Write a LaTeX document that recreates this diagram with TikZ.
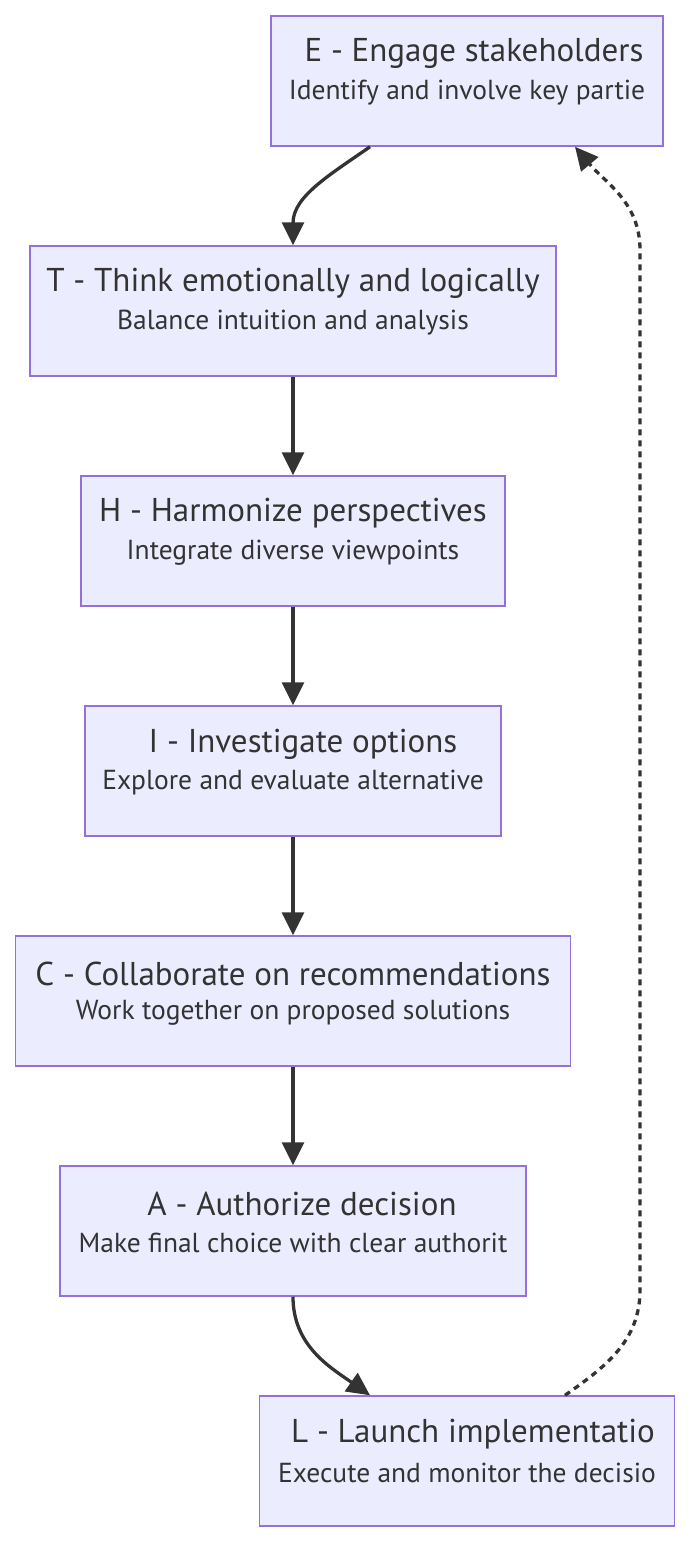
\documentclass[tikz,border=0pt]{standalone}
\usepackage{fontspec}
\setmainfont{PT Sans}
\usepackage{tikz}
\usetikzlibrary{arrows.meta}
\definecolor{boxfill}{HTML}{ECECFF}
\definecolor{boxline}{HTML}{9370DB}
\definecolor{ink}{HTML}{333333}
\tikzstyle{stage}=[rectangle, draw=boxline, line width=1.5pt, fill=boxfill, minimum height=130pt, inner sep=0pt]
\tikzstyle{head}=[inner sep=0pt, text=ink, font=\fontsize{33}{36}\selectfont]
\tikzstyle{sub}=[inner sep=0pt, text=ink, font=\fontsize{27.5}{30}\selectfont]
\tikzstyle{flow}=[draw=ink, line width=3.3pt, -{Triangle[length=23pt,width=22pt]}]
\tikzstyle{back}=[flow, dash pattern=on 6pt off 5pt]

\begin{document}
\begin{tikzpicture}[x=1pt, y=-1pt]
	\useasboundingbox (0,0) rectangle (691,1544);
	\node[stage, minimum width=392pt] (E) at (467,81) {};
	\node[head] (Eh) at (474,53) {E - Engage stakeholders};
	\node[sub] (Es) at (467,93) {Identify and involve key partie};
	\node[stage, minimum width=526pt] (T) at (293,311) {};
	\node[head] (Th) at (293,283) {T - Think emotionally and logically};
	\node[sub] (Ts) at (293,323) {Balance intuition and analysis};
	\node[stage, minimum width=424pt] (H) at (293,541) {};
	\node[head] (Hh) at (293,513) {H - Harmonize perspectives};
	\node[sub] (Hs) at (293,553) {Integrate diverse viewpoints};
	\node[stage, minimum width=416pt] (I) at (293,771) {};
	\node[head] (Ih) at (303,744) {I - Investigate options};
	\node[sub] (Is) at (293,783) {Explore and evaluate alternative};
	\node[stage, minimum width=555pt] (C) at (293,1001) {};
	\node[head] (Ch) at (293,974) {C - Collaborate on recommendations};
	\node[sub] (Cs) at (293,1013) {Work together on proposed solutions};
	\node[stage, minimum width=466pt] (A) at (293,1231) {};
	\node[head] (Ah) at (302,1204) {A - Authorize decision};
	\node[sub] (As) at (293,1243) {Make final choice with clear authorit};
	\node[stage, minimum width=415pt] (L) at (467,1461) {};
	\node[head] (Lh) at (473,1434) {L - Launch implementatio};
	\node[sub] (Ls) at (467,1473) {Execute and monitor the decisio};
	\coordinate (loopb) at (640,1290);
	\coordinate (loopt) at (640,250);
	\draw[flow] ([xshift=-97pt]E.south) to[out=-145, in=90] (T.north);
	\draw[flow] (T) -- (H);
	\draw[flow] (H) -- (I);
	\draw[flow] (I) -- (C);
	\draw[flow] (C) -- (A);
	\draw[flow] (A.south) to[out=-90, in=145] ([xshift=-97pt]L.north);
	\draw[back] ([xshift=98pt]L.north) to[out=35, in=-90] (loopb) -- (loopt) to[out=90, in=-50] ([xshift=108pt]E.south);
\end{tikzpicture}
\end{document}
